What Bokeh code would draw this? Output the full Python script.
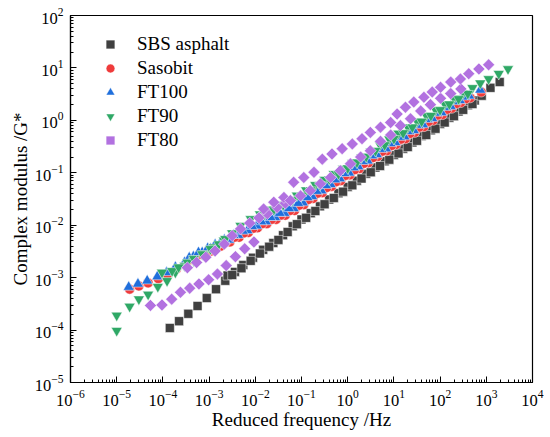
import numpy as np
from bokeh.plotting import figure
from bokeh.models import Legend, LegendItem, FixedTicker
from bokeh.embed import file_html
from bokeh.resources import INLINE

FONT = "Liberation Serif"

# ---- data: (log10 reduced frequency /Hz, log10 complex modulus) ----
SBS = [(-3.85,-3.96),(-3.65,-3.83),(-3.45,-3.69),(-3.25,-3.54),(-3.05,-3.39),(-2.85,-3.22),(-2.65,-3.06),
       (-2.60,-2.96),(-2.44,-2.89),(-2.26,-2.76),(-2.05,-2.62),(-1.83,-2.47),(-1.61,-2.34),(-1.40,-2.19),(-1.19,-2.02),
       (-1.00,-1.89),(-0.80,-1.77),(-0.60,-1.64),(-0.40,-1.51),(-0.20,-1.39),(0.00,-1.27),(0.20,-1.15),(0.40,-1.02),
       (0.60,-0.90),(0.80,-0.78),(1.00,-0.66),(1.20,-0.54),(1.40,-0.42),(1.60,-0.30),(1.80,-0.19),(2.00,-0.07),
       (2.20,0.05),(2.40,0.17),(2.60,0.29),(2.75,0.38),(2.90,0.47),(3.09,0.62),(3.29,0.73),
       (-2.50,-2.95),(-2.30,-2.82),(-2.10,-2.68),(-1.90,-2.54),(-1.70,-2.41),(-1.50,-2.28),(-1.30,-2.13),(-1.10,-1.98),
       (-0.90,-1.86),(-0.70,-1.73),(-0.50,-1.60),(-0.30,-1.48),(-0.10,-1.36),(0.10,-1.24),(0.30,-1.11),(0.50,-0.99),
       (0.70,-0.87),(0.90,-0.75),(1.10,-0.63),(1.30,-0.51),(1.50,-0.39),(1.70,-0.28),(1.90,-0.16),(2.10,-0.04),
       (2.30,0.08),(2.50,0.20),(2.70,0.31)]

SASOBIT = [(-4.72,-3.22),(-4.52,-3.16),(-4.32,-3.10),(-4.10,-3.02),(-3.90,-2.94),(-3.71,-2.84),(-3.51,-2.75),
           (-3.32,-2.64),(-3.13,-2.56),(-2.95,-2.49),(-2.75,-2.40),(-2.55,-2.32),(-2.35,-2.23),(-2.15,-2.14),
           (-1.95,-2.05),(-1.75,-1.97),(-1.55,-1.89),(-1.35,-1.81),(-1.15,-1.72),(-0.95,-1.61),(-0.75,-1.49),
           (-0.55,-1.38),(-0.35,-1.26),(-0.15,-1.15),(0.05,-1.04),(0.25,-0.92),(0.45,-0.81),(0.65,-0.69),
           (0.85,-0.58),(1.05,-0.46),(1.25,-0.35),(1.45,-0.23),(1.65,-0.12),(1.85,0.00),(2.05,0.11),(2.25,0.23),
           (2.45,0.34),(2.65,0.43),(2.89,0.54),
           (-3.41,-2.66),(-3.21,-2.56),(-3.01,-2.48),(-2.85,-2.41),(-2.65,-2.32),(-2.45,-2.23),(-2.25,-2.15),
           (-2.05,-2.06),(-1.85,-1.97),(-1.65,-1.89),(-1.45,-1.81),(-1.25,-1.72),(-1.05,-1.62),(-0.85,-1.51),
           (-0.65,-1.39),(-0.45,-1.28),(-0.25,-1.17),(-0.05,-1.05),(0.15,-0.94),(0.35,-0.82),(0.55,-0.71),
           (0.75,-0.59),(0.95,-0.48),(1.15,-0.36),(1.35,-0.25),(1.55,-0.13),(1.75,-0.02),(1.95,0.10),
           (2.15,0.21),(2.35,0.32),(2.55,0.41)]

FT100 = [(-4.74,-3.18),(-4.54,-3.12),(-4.34,-3.06),(-4.12,-2.98),(-3.92,-2.90),(-3.73,-2.80),(-3.53,-2.71),
         (-3.34,-2.60),(-3.15,-2.52),(-2.97,-2.45),(-2.77,-2.36),(-2.57,-2.28),(-2.37,-2.19),(-2.17,-2.10),
         (-1.97,-2.01),(-1.77,-1.93),(-1.57,-1.85),(-1.37,-1.77),(-1.17,-1.68),(-0.97,-1.57),(-0.77,-1.45),
         (-0.57,-1.34),(-0.37,-1.22),(-0.17,-1.11),(0.03,-1.00),(0.23,-0.88),(0.43,-0.77),(0.63,-0.65),
         (0.83,-0.54),(1.03,-0.42),(1.23,-0.31),(1.43,-0.19),(1.63,-0.08),(1.83,0.04),(2.03,0.15),(2.23,0.27),
         (2.43,0.38),(2.63,0.47),(2.87,0.58),
         (-3.43,-2.62),(-3.23,-2.52),(-3.03,-2.44),(-2.87,-2.37),(-2.67,-2.28),(-2.47,-2.19),(-2.27,-2.11),
         (-2.07,-2.02),(-1.87,-1.93),(-1.67,-1.85),(-1.47,-1.77),(-1.27,-1.68),(-1.07,-1.58),(-0.87,-1.47),
         (-0.67,-1.35),(-0.47,-1.24),(-0.27,-1.13),(-0.07,-1.01),(0.13,-0.90),(0.33,-0.78),(0.53,-0.67),
         (0.73,-0.55),(0.93,-0.44),(1.13,-0.32),(1.33,-0.21),(1.53,-0.09),(1.73,0.02),(1.93,0.14),
         (2.13,0.25),(2.33,0.36),(2.53,0.45)]

FT90 = [(-5.00,-3.72),(-5.00,-4.01),(-4.72,-3.55),(-4.52,-3.41),(-4.32,-3.32),(-4.11,-3.17),(-3.91,-3.06),
        (-3.73,-2.90),(-3.53,-2.77),(-3.33,-2.68),(-3.11,-2.55),(-2.90,-2.42),(-2.68,-2.29),(-2.50,-2.15),
        (-2.32,-2.01),(-2.10,-1.88),
        (-4.02,-2.90),(-3.80,-2.87),(-3.66,-2.80),(-3.47,-2.71),(-3.33,-2.64),(-3.15,-2.55),(-2.97,-2.45),
        (-2.79,-2.36),(-2.65,-2.26),
        (-1.90,-1.79),(-1.70,-1.70),(-1.50,-1.61),(-1.30,-1.52),(-1.10,-1.43),(-0.90,-1.33),(-0.70,-1.23),
        (-0.50,-1.13),(-0.30,-1.02),(-0.10,-0.92),(0.10,-0.81),(0.30,-0.70),(0.50,-0.59),(0.70,-0.47),
        (0.90,-0.36),(1.10,-0.25),(1.30,-0.13),(1.50,-0.02),(1.70,0.09),(1.90,0.20),(2.10,0.31),(2.30,0.42),
        (2.50,0.52),(2.70,0.62),(2.87,0.71),(3.05,0.79),(3.27,0.89),(3.47,0.98),
        (-1.80,-1.79),(-1.60,-1.70),(-1.40,-1.61),(-1.20,-1.52),(-1.00,-1.43),(-0.80,-1.33),(-0.60,-1.23),
        (-0.40,-1.12),(-0.20,-1.02),(0.00,-0.91),(0.20,-0.80),(0.40,-0.69),(0.60,-0.58),(0.80,-0.47),
        (1.00,-0.35),(1.20,-0.24),(1.40,-0.13),(1.60,-0.02),(1.80,0.09),(2.00,0.20),(2.20,0.31),(2.40,0.41),
        (2.60,0.51)]

FT80 = [(-4.27,-3.53),(-4.02,-3.52),(-3.81,-3.41),(-3.62,-3.28),(-3.42,-3.20),(-3.22,-3.12),(-3.01,-3.04),
        (-2.82,-2.93),(-2.63,-2.77),(-2.43,-2.60),(-2.23,-2.45),(-2.03,-2.32),
        (-3.47,-2.81),(-3.27,-2.71),(-3.07,-2.61),(-2.87,-2.49),(-2.67,-2.36),(-2.50,-2.20),(-2.32,-2.07),
        (-2.12,-1.96),(-1.92,-1.86),(-1.74,-1.78),(-1.53,-1.66),(-1.35,-1.58),
        (-1.82,-1.69),(-1.60,-1.56),(-1.38,-1.47),
        (-1.24,-1.53),(-1.02,-1.44),(-0.81,-1.34),(-0.59,-1.21),(-0.37,-1.09),(-0.16,-0.96),(0.06,-0.83),
        (0.28,-0.70),(0.49,-0.58),(0.71,-0.40),(0.93,-0.28),(1.14,-0.10),(1.36,0.03),(1.58,0.18),(1.79,0.30),
        (2.01,0.42),(2.23,0.51),(2.45,0.60),
        (-1.17,-1.18),(-0.95,-1.09),(-0.73,-0.99),(-0.55,-0.74),(-0.34,-0.64),(-0.12,-0.54),(0.10,-0.45),
        (0.31,-0.35),(0.49,-0.23),(0.71,-0.13),(0.93,-0.04),(1.07,0.12),(1.25,0.25),(1.43,0.35),(1.65,0.44),
        (1.83,0.54),(2.01,0.63),(2.23,0.73),(2.44,0.79),(2.62,0.89),(2.84,0.98),(3.05,1.06)]

SERIES_NAMES = ["SBS asphalt", "Sasobit", "FT100", "FT90", "FT80"]
X_TICKS = [1e-6, 1e-5, 1e-4, 1e-3, 1e-2, 1e-1, 1e0, 1e1, 1e2, 1e3, 1e4]
Y_TICKS = [1e-5, 1e-4, 1e-3, 1e-2, 1e-1, 1e0, 1e1, 1e2]

def minor(ticks):
    out = []
    for t in ticks[:-1]:
        out += [t * k for k in range(2, 10)]
    return out

p = figure(width=550, height=437, x_axis_type="log", y_axis_type="log",
           x_range=(1e-6, 1e4), y_range=(1e-5, 1e2),
           output_backend="svg", toolbar_location=None,
           min_border_left=70, min_border_right=18, min_border_top=15, min_border_bottom=55)

p.xgrid.visible = False
p.ygrid.visible = False
p.outline_line_color = "black"
p.outline_line_width = 1.2
p.background_fill_color = "white"
p.border_fill_color = "white"

p.xaxis.ticker = FixedTicker(ticks=X_TICKS, minor_ticks=minor(X_TICKS))
p.yaxis.ticker = FixedTicker(ticks=Y_TICKS, minor_ticks=minor(Y_TICKS))
for ax in (p.xaxis, p.yaxis):
    ax.major_tick_in = 6
    ax.major_tick_out = 0
    ax.minor_tick_in = 3
    ax.minor_tick_out = 0
    ax.axis_line_width = 1.2
    ax.major_tick_line_width = 1
    ax.minor_tick_line_width = 1
    ax.major_label_text_font = FONT
    ax.major_label_text_font_size = "16.5px"
    ax.major_label_text_color = "black"
    ax.axis_label_text_font = FONT
    ax.axis_label_text_font_size = "19px"
    ax.axis_label_text_font_style = "normal"
    ax.axis_label_text_color = "black"
p.xaxis.axis_label = "Reduced frequency /Hz"
p.yaxis.axis_label = "Complex modulus /G*"
p.xaxis.major_label_standoff = 7
p.xaxis.axis_label_standoff = 0
p.yaxis.major_label_standoff = 7
p.yaxis.axis_label_standoff = 1

styles = [
    (SBS, "square", 9, "#404040", 0),
    (SASOBIT, "circle", 10, "#ef3b3b", 0),
    (FT100, "triangle", 11, "#1f6fdc", 0),
    (FT90, "inverted_triangle", 11, "#2fa866", 0),
    (FT80, "square", 8.5, "#b271e0", np.pi / 4),
]
renderers = []
for data, marker, size, color, ang in styles:
    xs = [10 ** a for a, b in data]
    ys = [10 ** b for a, b in data]
    r = p.scatter(xs, ys, marker=marker, size=size, angle=ang, fill_color=color,
                  line_color="white", line_width=0.5)
    renderers.append(r)

legend = Legend(items=[LegendItem(label=n, renderers=[r]) for n, r in zip(SERIES_NAMES, renderers)],
                location="top_left", border_line_color=None, background_fill_alpha=0,
                margin=18, padding=0, glyph_width=44, glyph_height=22, spacing=2,
                label_standoff=5, label_text_font=FONT, label_text_font_size="19px",
                label_text_color="black")
p.add_layout(legend)

open("out.html", "w").write(file_html(p, INLINE))
